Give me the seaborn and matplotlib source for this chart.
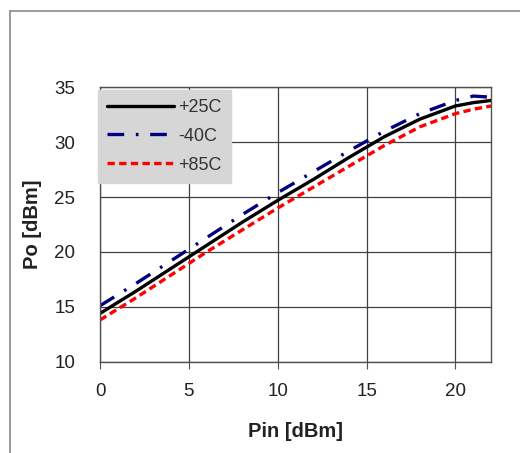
import pandas as pd
import seaborn as sns
import matplotlib.pyplot as plt
from matplotlib.lines import Line2D

# data
pin = [0, 2, 4, 6, 8, 10, 12, 14, 16, 18, 20, 21, 22]
po_25 = [14.4, 16.4, 18.5, 20.6, 22.7, 24.7, 26.6, 28.6, 30.5, 32.1, 33.3, 33.6, 33.8]
po_m40 = [15.1, 17.1, 19.2, 21.3, 23.4, 25.4, 27.3, 29.2, 31.0, 32.6, 33.8, 34.2, 34.1]
po_85 = [13.8, 15.8, 17.9, 20.0, 22.0, 24.0, 25.9, 27.8, 29.7, 31.4, 32.6, 33.0, 33.3]
series = ["+25C", "-40C", "+85C"]
x_ticks = [0, 5, 10, 15, 20]
y_ticks = [10, 15, 20, 25, 30, 35]

###
def buildFrame():
    rows = []
    for name, vals in zip(series, [po_25, po_m40, po_85]):
        for x, y in zip(pin, vals):
            rows.append({"Pin": x, "Po": y, "temp": name})
    return pd.DataFrame(rows)

###
def plotChart(df):
    sns.set_style("white")
    plt.rcParams['font.family'] = ['Liberation Sans', 'DejaVu Sans']

    fig = plt.figure(figsize=(5.2, 4.53), dpi=100)
    ax = fig.add_axes([100 / 520, 1 - 361.7 / 453, 391 / 520, 274.4 / 453])

    palette = {"+25C": "black", "-40C": "#000080", "+85C": "#ff0000"}
    dashes = {"+25C": "", "-40C": (5, 3.5, 0.8, 3.5), "+85C": (2.2, 1.3)}
    sns.lineplot(data=df, x="Pin", y="Po", hue="temp", style="temp",
                 palette=palette, dashes=dashes, linewidth=2.4, ax=ax)

    ax.set_xlim(0, 22)
    ax.set_ylim(10, 35)
    ax.set_xticks(x_ticks)
    ax.set_yticks(y_ticks)
    ax.grid(True, color="#404040", linewidth=0.9)
    for s in ax.spines.values():
        s.set_color("#505050")
        s.set_linewidth(1.0)
    ax.tick_params(axis="x", length=5, color="#505050", direction="out",
                   labelsize=13.5, labelcolor="#222222", pad=10, bottom=True)
    ax.tick_params(axis="y", length=0, labelsize=13.5, labelcolor="#222222", pad=18)
    ax.set_xlabel("Pin [dBm]", fontsize=14.5, fontweight="bold", labelpad=16, color="#222222")
    ax.set_ylabel("Po [dBm]", fontsize=14.5, fontweight="bold", labelpad=9, color="#222222")

    leg = ax.legend(loc="upper left", bbox_to_anchor=(-0.005, 0.99), frameon=True,
                    fancybox=False, fontsize=13, handlelength=3.7,
                    handletextpad=0.25, labelspacing=0.65, borderpad=0.5,
                    borderaxespad=0)
    leg.get_frame().set_facecolor("#d6d6d6")
    leg.get_frame().set_edgecolor("#d6d6d6")
    leg.get_frame().set_alpha(1)
    for t in leg.get_texts():
        t.set_color("#333333")

    # outer chart-area border (top and left visible)
    x0 = 9.5 / 520
    y0 = 1 - 10.5 / 453
    fig.add_artist(Line2D([x0, 1.0], [y0, y0], transform=fig.transFigure, color="#8a8a8a", linewidth=1.2))
    fig.add_artist(Line2D([x0, x0], [0.0, y0], transform=fig.transFigure, color="#8a8a8a", linewidth=1.2))

    fig.savefig("out.png", dpi=100)

###
if __name__ == '__main__':
    dataFrame = buildFrame()
    plotChart(dataFrame)
